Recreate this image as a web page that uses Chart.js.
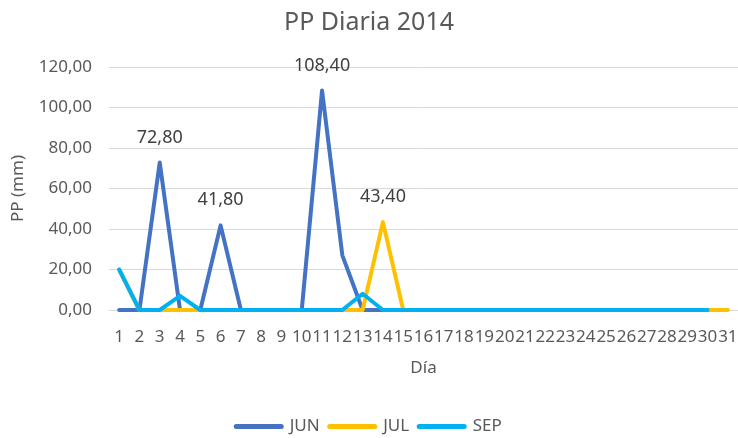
<!DOCTYPE html>
<html>
<head>
<meta charset="utf-8">
<script src="https://cdn.jsdelivr.net/npm/chart.js@4/dist/chart.umd.min.js"></script>
<style>
html,body{margin:0;padding:0;background:#fff;}
#wrap{width:738px;height:438px;}
</style>
</head>
<body>
<div id="wrap"><canvas id="c" width="738" height="438"></canvas></div>
<script>
const days = ['1','2','3','4','5','6','7','8','9','10','11','12','13','14','15','16','17','18','19','20','21','22','23','24','25','26','27','28','29','30','31'];
const jun = [0,0,72.8,0,0,41.8,0,0,0,0,108.4,27,0,0,0,0,0,0,0,0,0,0,0,0,0,0,0,0,0,0];
const jul = [20,0,0,0,0,0,0,0,0,0,0,0,0,43.4,0,0,0,0,0,0,0,0,0,0,0,0,0,0,0,0,0];
const sep = [20,0,0,7,0,0,0,0,0,0,0,0,8,0,0,0,0,0,0,0,0,0,0,0,0,0,0,0,0,0];
const yTicks = [0,20,40,60,80,100,120];
const junLabelDays = ['3','6','11'];
const julLabelDays = ['14'];
const sepLabelDays = [];

const FONT = "'Noto Sans', 'Open Sans', sans-serif";
const fmt = v => Number(v).toFixed(2).replace('.', ',');

const labelPlugin = {
  id: 'pointLabels',
  afterDatasetsDraw(chart) {
    const ctx = chart.ctx;
    const lists = [junLabelDays, julLabelDays, sepLabelDays];
    ctx.save();
    ctx.font = "18px " + FONT;
    ctx.fillStyle = '#404040';
    ctx.textAlign = 'center';
    ctx.textBaseline = 'middle';
    chart.data.datasets.forEach((ds, i) => {
      const meta = chart.getDatasetMeta(i);
      lists[i].forEach(d => {
        const idx = days.indexOf(d);
        const pt = meta.data[idx];
        if (!pt) return;
        ctx.fillText(fmt(ds.data[idx]), pt.x, pt.y - 25);
      });
    });
    ctx.restore();
  }
};

const common = {
  borderWidth: 4,
  pointRadius: 0,
  pointHoverRadius: 0,
  tension: 0,
  fill: false,
  clip: false,
  borderCapStyle: 'round',
  borderJoinStyle: 'round',
  pointStyle: 'line'
};

new Chart(document.getElementById('c'), {
  type: 'line',
  data: {
    labels: days,
    datasets: [
      Object.assign({label: 'JUN', data: jun, borderColor: '#4472C4', backgroundColor: '#4472C4', order: 2}, common),
      Object.assign({label: 'JUL', data: jul, borderColor: '#FFC000', backgroundColor: '#FFC000', order: 1}, common),
      Object.assign({label: 'SEP', data: sep, borderColor: '#00B0F0', backgroundColor: '#00B0F0', order: 0}, common)
    ]
  },
  options: {
    responsive: false,
    animation: false,
    events: [],
    layout: { padding: { left: 0, right: 0, top: 0, bottom: -7 } },
    plugins: {
      title: {
        display: true,
        text: 'PP Diaria 2014',
        color: '#595959',
        font: { family: FONT, size: 25, weight: 'normal' },
        padding: { top: 8, bottom: 29 }
      },
      legend: {
        display: true,
        position: 'bottom',
        labels: {
          usePointStyle: true,
          pointStyle: 'line',
          pointStyleWidth: 45,
          color: '#595959',
          font: { family: FONT, size: 17 },
          padding: 10,
          generateLabels(chart) {
            return chart.data.datasets.map((ds, i) => ({
              text: ds.label,
              fillStyle: ds.borderColor,
              strokeStyle: ds.borderColor,
              lineWidth: 5,
              lineCap: 'round',
              pointStyle: 'line',
              fontColor: '#595959',
              datasetIndex: i,
              hidden: false
            }));
          }
        }
      },
      tooltip: { enabled: false }
    },
    scales: {
      x: {
        type: 'category',
        offset: true,
        afterFit(scale) { scale.height = 98; scale.paddingLeft = 0; scale.paddingRight = 0; },
        grid: { display: false, drawTicks: false },
        border: { display: true, color: '#d9d9d9', width: 1 },
        ticks: {
          autoSkip: false, maxRotation: 0, minRotation: 0,
          color: '#595959',
          font: { family: FONT, size: 17 },
          padding: 17
        },
        title: {
          display: true,
          text: 'Día',
          color: '#595959',
          font: { family: FONT, size: 17 },
          padding: { top: 6, bottom: 30 }
        }
      },
      y: {
        min: 0,
        max: 120,
        afterBuildTicks(scale) { scale.ticks = yTicks.map(v => ({ value: v })); },
        afterFit(scale) { scale.width = 109; },
        grid: { color: '#d9d9d9', lineWidth: 1, drawTicks: false },
        border: { display: false },
        ticks: {
          color: '#595959',
          font: { family: FONT, size: 17 },
          padding: 17,
          callback: v => fmt(v)
        },
        title: {
          display: true,
          text: 'PP (mm)',
          color: '#595959',
          font: { family: FONT, size: 17 },
          padding: { top: 8, bottom: 0 }
        }
      }
    }
  },
  plugins: [labelPlugin]
});
</script>
</body>
</html>
